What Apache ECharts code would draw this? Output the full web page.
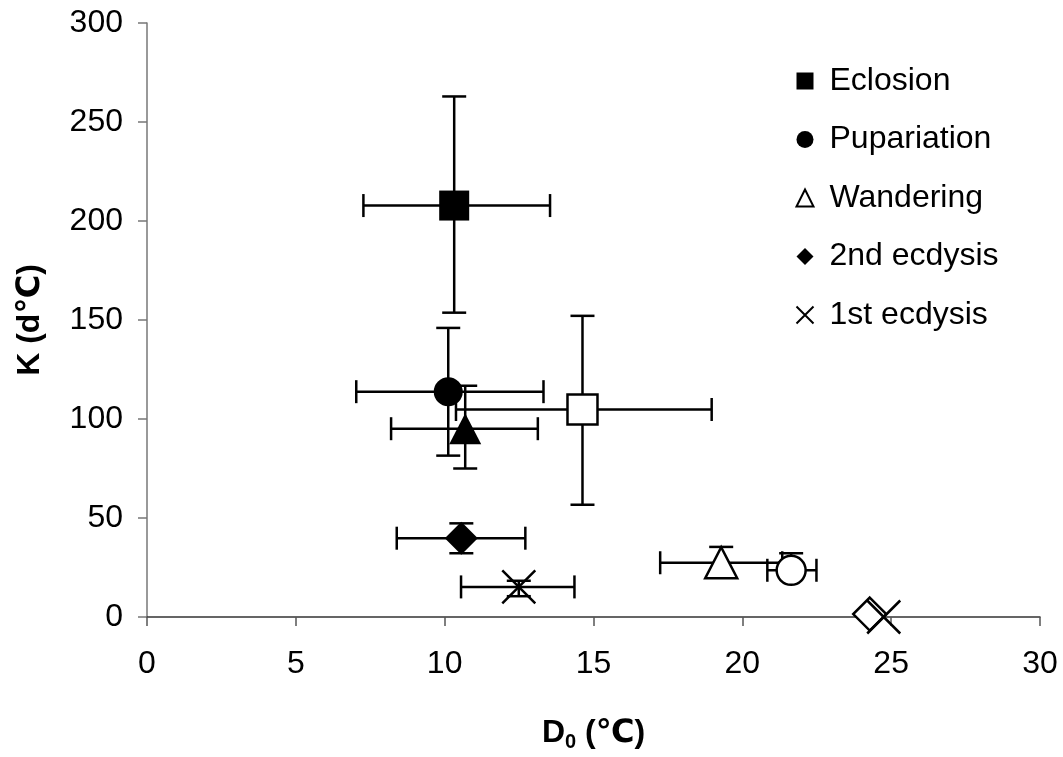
<!DOCTYPE html>
<html>
<head>
<meta charset="utf-8">
<script src="https://cdn.jsdelivr.net/npm/echarts@6/dist/echarts.min.js"></script>
<style>html,body{margin:0;padding:0;background:#fff;}#c{width:1063px;height:757px;}</style>
</head>
<body>
<div id="c"></div>
<script>
// ---- data ----
const stages = ['Eclosion', 'Pupariation', 'Wandering', '2nd ecdysis', '1st ecdysis'];
const xTicks = [0, 5, 10, 15, 20, 25, 30];
const yTicks = [0, 50, 100, 150, 200, 250, 300];

// first group (filled markers)
const groupA_D0     = [10.32, 10.12, 10.69, 10.56, 12.49];
const groupA_K      = [207.8, 113.8, 95.1, 39.8, 15.2];
const groupA_D0Low  = [7.27, 7.03, 8.20, 8.39, 10.55];
const groupA_D0High = [13.54, 13.32, 13.13, 12.71, 14.36];
const groupA_KLow   = [153.7, 81.5, 75.0, 32.2, 10.5];
const groupA_KHigh  = [262.9, 146.0, 116.8, 47.3, 18.3];

// second group (open markers)
const groupB_D0     = [14.63, 21.64, 19.29, 24.28, 24.75];
const groupB_K      = [104.8, 23.6, 27.4, 1.5, 0.0];
const groupB_D0Low  = [10.38, 20.84, 17.24, null, null];
const groupB_D0High = [18.97, 22.49, 21.34, null, null];
const groupB_KLow   = [56.7, 19.1, 20.0, null, null];
const groupB_KHigh  = [152.1, 32.2, 35.4, null, null];

// ---- styles ----
const FONT = '"Liberation Sans", Arial, "DejaVu Sans", sans-serif';
const X_PATH = 'path://M0,0L10,10M10,0L0,10';
const symbols = ['rect', 'circle', 'triangle', 'diamond', X_PATH];
const sizes = [30, 29, [32, 31], 33, 33];

function markerStyle(i, filled) {
  if (i === 4) return { color: 'none', borderColor: '#000', borderWidth: 2.5, opacity: 1 };
  return filled ? { color: '#000', borderColor: '#000', borderWidth: 0, opacity: 1 }
                : { color: '#fff', borderColor: '#000', borderWidth: 2.5, opacity: 1 };
}

// error bar rows
const errRows = [];
function pushErr(xs, ys, xl, xh, yl, yh) {
  for (let i = 0; i < xs.length; i++) {
    if (xl[i] == null) continue;
    errRows.push([xs[i], ys[i], xl[i], xh[i], yl[i], yh[i]]);
  }
}
pushErr(groupA_D0, groupA_K, groupA_D0Low, groupA_D0High, groupA_KLow, groupA_KHigh);
pushErr(groupB_D0, groupB_K, groupB_D0Low, groupB_D0High, groupB_KLow, groupB_KHigh);

const series = [{
  type: 'custom',
  name: 'errors',
  z: 1,
  silent: true,
  data: errRows,
  renderItem: function (params, api) {
    const x = api.value(0), y = api.value(1);
    const c = api.coord([x, y]);
    const pl = api.coord([api.value(2), y]);
    const ph = api.coord([api.value(3), y]);
    const pb = api.coord([x, api.value(4)]);
    const pt = api.coord([x, api.value(5)]);
    const st = { stroke: '#000', lineWidth: 2.5 };
    const hc = 11.5, vc = 12;
    return {
      type: 'group',
      children: [
        { type: 'line', shape: { x1: pl[0], y1: c[1], x2: ph[0], y2: c[1] }, style: st },
        { type: 'line', shape: { x1: pl[0], y1: c[1] - hc, x2: pl[0], y2: c[1] + hc }, style: st },
        { type: 'line', shape: { x1: ph[0], y1: c[1] - hc, x2: ph[0], y2: c[1] + hc }, style: st },
        { type: 'line', shape: { x1: c[0], y1: pb[1], x2: c[0], y2: pt[1] }, style: st },
        { type: 'line', shape: { x1: c[0] - vc, y1: pb[1], x2: c[0] + vc, y2: pb[1] }, style: st },
        { type: 'line', shape: { x1: c[0] - vc, y1: pt[1], x2: c[0] + vc, y2: pt[1] }, style: st }
      ]
    };
  }
}];

stages.forEach(function (name, i) {
  series.push({
    type: 'scatter',
    name: name,
    z: 3,
    symbol: symbols[i],
    itemStyle: markerStyle(i, i !== 2),
    emphasis: { disabled: true },
    data: [
      { value: [groupA_D0[i], groupA_K[i]], symbol: symbols[i], symbolSize: sizes[i], itemStyle: markerStyle(i, true) },
      { value: [groupB_D0[i], groupB_K[i]], symbol: symbols[i], symbolSize: sizes[i], itemStyle: markerStyle(i, false) }
    ]
  });
});

const legendData = stages.map(function (name, i) {
  return { name: name, icon: symbols[i], itemStyle: i === 4 ? { color: 'none', borderColor: '#000', borderWidth: 2, opacity: 1 } : (i === 2 ? { color: '#fff', borderColor: '#000', borderWidth: 2, opacity: 1 } : { color: '#000', borderWidth: 0, opacity: 1 }) };
});

const chart = echarts.init(document.getElementById('c'), null, { renderer: 'canvas' });
chart.setOption({
  backgroundColor: '#fff',
  animation: false,
  textStyle: { fontFamily: FONT },
  grid: { left: 147, right: 23, top: 23, bottom: 139, containLabel: false },
  legend: {
    data: legendData,
    orient: 'vertical',
    left: 789,
    top: 60,
    itemWidth: 17,
    itemHeight: 17,
    itemGap: 26.5,
    selectedMode: false,
    textStyle: { fontSize: 32, color: '#000', fontFamily: FONT, padding: [0, 0, 0, 11] }
  },
  xAxis: {
    type: 'value',
    min: 0, max: 30, interval: 5,
    name: '{a|D}{b|0}{a| (℃)}',
    nameLocation: 'middle',
    nameGap: 97,
    nameTextStyle: {
      rich: {
        a: { fontSize: 32, fontWeight: 'bold', color: '#000', fontFamily: FONT },
        b: { fontSize: 20, fontWeight: 'bold', color: '#000', fontFamily: FONT, verticalAlign: 'bottom', padding: [18, 0, 0, 0] }
      }
    },
    splitLine: { show: false },
    axisLine: { lineStyle: { color: '#333', width: 1.5 } },
    axisTick: { length: 9, lineStyle: { color: '#555', width: 1.5 } },
    axisLabel: { fontSize: 32, color: '#000', margin: 31, fontFamily: FONT,
      formatter: function (v) { return xTicks.indexOf(v) >= 0 ? String(v) : ''; } }
  },
  yAxis: {
    type: 'value',
    min: 0, max: 300, interval: 50,
    name: 'K (d℃)',
    nameLocation: 'middle',
    nameGap: 101,
    nameTextStyle: { fontSize: 32, fontWeight: 'bold', color: '#000', fontFamily: FONT },
    splitLine: { show: false },
    axisLine: { show: true, lineStyle: { color: '#777', width: 1.5 } },
    axisTick: { show: true, length: 9, lineStyle: { color: '#777', width: 1.5 } },
    axisLabel: { fontSize: 32, color: '#000', margin: 24, fontFamily: FONT,
      formatter: function (v) { return yTicks.indexOf(v) >= 0 ? String(v) : ''; } }
  },
  series: series
});
</script>
</body>
</html>
